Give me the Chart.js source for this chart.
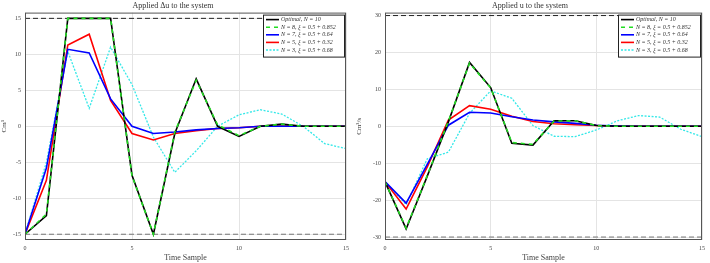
<!DOCTYPE html>
<html>
<head>
<meta charset="utf-8">
<script src="https://cdn.jsdelivr.net/npm/chart.js@4.4.1/dist/chart.umd.min.js"></script>
<style>
  body { margin: 0; background: #fff; width: 710px; height: 263px; overflow: hidden; }
  .box { position: absolute; top: 0; width: 355px; height: 263px; }
</style>
</head>
<body>
<div class="box" style="left:0"><canvas id="duChart" width="355" height="263"></canvas></div>
<div class="box" style="left:355px"><canvas id="uChart" width="355" height="263"></canvas></div>
<script>
// time samples
const steps = [0, 1, 2, 3, 4, 5, 6, 7, 8, 9, 10, 11, 12, 13, 14, 15];
const xTicks = [0, 5, 10, 15];

// applied delta u
const duOpt = [-15, -12.4, 15, 15, 15, -6.8, -15, -1, 6.6, 0, -1.4, 0, 0.3, 0, 0, 0];
const duN8 = [-15, -12.2, 15, 15, 15, -6.9, -15, -0.8, 6.4, 0.2, -1.3, 0, 0.3, 0, 0, 0];
const duN7 = [-15, -5.8, 10.7, 10.2, 3.8, 0, -1, -0.8, -0.5, -0.3, -0.2, 0, 0, 0, 0, 0];
const duN5 = [-15, -7.5, 11.3, 12.8, 3.6, -1, -1.9, -1, -0.6, -0.3, -0.2, 0, 0, 0, 0, 0];
const duN3 = [-15, -5, 10.4, 2.5, 11, 5.8, -1.5, -6.4, -3.4, 0, 1.6, 2.3, 1.7, 0, -2.4, -3.1];
const duLimit = 15;
const duTicks = [-15, -10, -5, 0, 5, 10, 15];

// applied u
const uOpt = [-15, -27.8, -13.5, 1.2, 17.3, 10.5, -4.6, -5.1, 1.5, 1.5, 0.2, 0, 0, 0, 0, 0];
const uN8 = [-15, -27.6, -13.3, 1.4, 17.1, 10.4, -4.4, -4.9, 1.4, 1.5, 0.2, 0, 0, 0, 0, 0];
const uN7 = [-15, -20.8, -10.3, 0.3, 3.8, 3.6, 2.6, 1.7, 1.2, 0.8, 0.3, 0.1, 0, 0, 0, 0];
const uN5 = [-15, -22.4, -11, 1.7, 5.6, 4.6, 2.7, 1.3, 0.7, 0.4, 0.2, 0, 0, 0, 0, 0];
const uN3 = [-15, -21.2, -8.8, -7, 3.5, 9.6, 7.6, 0.2, -2.7, -2.8, -1, 1.5, 2.9, 2.5, -0.8, -2.8];
const uLimit = 30;
const uTicks = [-30, -20, -10, 0, 10, 20, 30];

const seriesNames = [
    'Optimal, N = 10',
    'N = 8, \u03BE = 0.5 + 0.852',
    'N = 7, \u03BE = 0.5 + 0.64',
    'N = 5, \u03BE = 0.5 + 0.32',
    'N = 3, \u03BE = 0.5 + 0.68'
];

const serif = "'Liberation Serif', 'DejaVu Serif', serif";

function pts(vals) {
    return vals.map((v, i) => ({x: steps[i], y: v}));
}

function limitLine(v, color) {
    return {
        data: [{x: steps[0], y: v}, {x: steps[steps.length - 1], y: v}],
        borderColor: color, borderWidth: 1, borderDash: [5, 3],
        pointRadius: 0, legend: false, order: 10
    };
}

function makeDatasets(opt, n8, n7, n5, n3, lim) {
    return [
        limitLine(lim, '#222'),
        limitLine(-lim, '#777'),
        {label: seriesNames[0], data: pts(opt), borderColor: '#000000', borderWidth: 1.6, pointRadius: 0, order: 2},
        {label: seriesNames[1], data: pts(n8), borderColor: '#22dd22', borderWidth: 1.6, borderDash: [4, 4], pointRadius: 0, order: 1},
        {label: seriesNames[2], data: pts(n7), borderColor: '#0000ff', borderWidth: 1.6, pointRadius: 0, order: 3},
        {label: seriesNames[3], data: pts(n5), borderColor: '#ff0000', borderWidth: 1.6, pointRadius: 0, order: 3},
        {label: seriesNames[4], data: pts(n3), borderColor: '#33e8e8', borderWidth: 1.3, borderDash: [2, 1.5], pointRadius: 0, order: 4}
    ];
}

// frame round the plot + the boxed legend in the top right corner
const framePlugin = {
    id: 'frame',
    afterDraw(chart, args, opts) {
        const {ctx, chartArea} = chart;
        ctx.save();
        ctx.strokeStyle = '#555';
        ctx.lineWidth = 1;
        ctx.strokeRect(chartArea.left + 0.5, chartArea.top + 0.5, chartArea.width - 1, chartArea.height - 1);

        const sets = chart.data.datasets.filter(d => d.legend !== false);
        const bx = chartArea.right - opts.boxWidth;
        const by = chartArea.top + 2;
        const rowH = 7.6;
        const bh = sets.length * rowH + 4;
        ctx.fillStyle = '#fff';
        ctx.fillRect(bx, by, opts.boxWidth - 1, bh);
        ctx.strokeStyle = '#222';
        ctx.strokeRect(bx + 0.5, by + 0.5, opts.boxWidth - 2, bh);
        ctx.font = "italic 6px " + serif;
        ctx.textBaseline = 'middle';
        sets.forEach((d, i) => {
            const y = by + 5 + i * rowH;
            ctx.strokeStyle = d.borderColor;
            ctx.lineWidth = d.borderWidth;
            ctx.setLineDash(d.borderDash || []);
            ctx.beginPath();
            ctx.moveTo(bx + 3, y);
            ctx.lineTo(bx + opts.lineLen, y);
            ctx.stroke();
            ctx.setLineDash([]);
            ctx.fillStyle = '#333';
            ctx.fillText(d.label, bx + opts.lineLen + 2, y);
        });
        ctx.restore();
    }
};

function makeConfig(datasets, title, yTitle, yTickVals, yLim, yAxisW, padRight, legendW) {
    return {
        type: 'line',
        data: {datasets},
        options: {
            responsive: false,
            animation: false,
            layout: {padding: {left: 0, right: padRight, top: 0, bottom: 0}},
            plugins: {
                legend: {display: false},
                tooltip: {enabled: false},
                title: {
                    display: true, text: title, color: '#333',
                    font: {family: serif, size: 8, weight: 'normal'},
                    padding: {top: 1, bottom: 2}
                },
                frame: {boxWidth: legendW, lineLen: 16}
            },
            scales: {
                x: {
                    type: 'linear', min: 0, max: 15,
                    afterBuildTicks: (axis) => { axis.ticks = xTicks.map(v => ({value: v})); },
                    afterFit: (s) => { s.height = 23; },
                    grid: {color: '#e4e4e4', drawTicks: false},
                    border: {display: false},
                    ticks: {color: '#444', font: {family: serif, size: 6}, padding: 5, maxRotation: 0},
                    title: {display: true, text: 'Time Sample', color: '#444', font: {family: serif, size: 8}, padding: {top: 0, bottom: 0}}
                },
                y: {
                    type: 'linear', min: -yLim, max: yLim,
                    afterBuildTicks: (axis) => { axis.ticks = yTickVals.map(v => ({value: v})); },
                    afterFit: (s) => { s.width = yAxisW; },
                    grid: {color: '#e4e4e4', drawTicks: false},
                    border: {display: false},
                    ticks: {color: '#444', font: {family: serif, size: 6}, padding: 4},
                    title: {display: true, text: yTitle, color: '#444', font: {family: serif, size: 7}, padding: {top: 0, bottom: 0}}
                }
            }
        },
        plugins: [framePlugin]
    };
}

const duChart = new Chart(
    document.getElementById('duChart'),
    makeConfig(makeDatasets(duOpt, duN8, duN7, duN5, duN3, duLimit),
        'Applied \u0394u to the system', 'Cm\u00B3', duTicks, 15.8, 25, 9, 83)
);

const uChart = new Chart(
    document.getElementById('uChart'),
    makeConfig(makeDatasets(uOpt, uN8, uN7, uN5, uN3, uLimit),
        'Applied u to the system', 'Cm\u00B3/s', uTicks, 30.8, 30, 5, 84)
);
</script>
</body>
</html>
